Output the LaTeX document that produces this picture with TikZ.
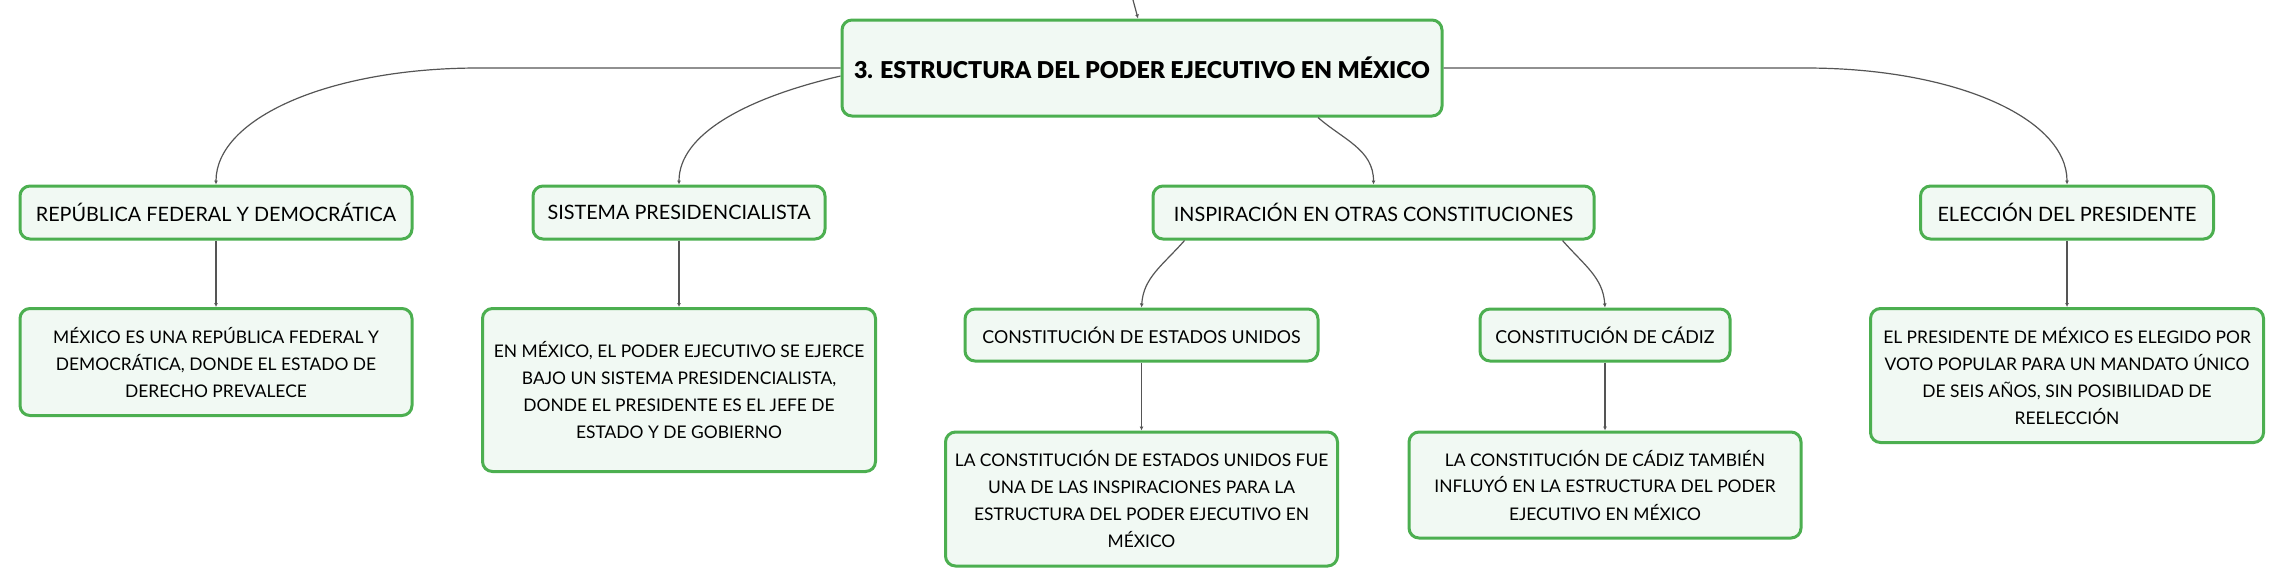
\documentclass[tikz,border=0pt]{standalone}
\usepackage{fontspec}
\setmainfont{Lato}[BoldFont={Lato Black}]
\usepackage{tikz}
\usetikzlibrary{arrows.meta}

\definecolor{boxgreen}{RGB}{76,175,80}
\definecolor{boxfill}{RGB}{241,249,243}
\definecolor{linkgray}{RGB}{85,85,85}

\begin{document}
\begin{tikzpicture}[x=0.5pt, y=-0.5pt,
    box/.style={draw=boxgreen, line width=1.5pt, fill=boxfill, rounded corners=5pt,
      align=center, inner sep=0pt, text=black},
    topic/.style={box, font=\fontsize{9.9}{13}\selectfont},
    subtopic/.style={box, font=\fontsize{8.9}{13}\selectfont},
    note/.style={box, font=\fontsize{8.7}{13.5}\selectfont},
    link/.style={draw=linkgray, line width=0.6pt, -{Latex[length=2pt,width=2pt]}}]
    \useasboundingbox (0,0) rectangle (2284,586);
    % main topic
    \node[box, font=\bfseries\fontsize{11.6}{13}\selectfont, minimum width=300pt, minimum height=48pt]
      (title) at (1142,68) {3. ESTRUCTURA DEL PODER EJECUTIVO EN MÉXICO};
    \coordinate (up) at (1133,0);
    % first level
    \node[topic, minimum width=196pt, minimum height=26.5pt] (rep) at (216,212.5) {REPÚBLICA FEDERAL Y DEMOCRÁTICA};
    \node[topic, minimum width=146pt, minimum height=26.5pt] (sis) at (679,212.5) {SISTEMA PRESIDENCIALISTA};
    \node[topic, minimum width=220.5pt, minimum height=26.5pt] (insp) at (1373.5,212.5) {INSPIRACIÓN EN OTRAS CONSTITUCIONES};
    \node[topic, minimum width=146.5pt, minimum height=26.5pt] (elec) at (2067,212.5) {ELECCIÓN DEL PRESIDENTE};
    % second level
    \node[note, minimum width=196pt, minimum height=53.5pt] (repd) at (216,362)
      {MÉXICO ES UNA REPÚBLICA FEDERAL Y\\DEMOCRÁTICA, DONDE EL ESTADO DE\\DERECHO PREVALECE};
    \node[note, minimum width=196.5pt, minimum height=81.5pt] (sisd) at (679,390)
      {EN MÉXICO, EL PODER EJECUTIVO SE EJERCE\\BAJO UN SISTEMA PRESIDENCIALISTA,\\DONDE EL PRESIDENTE ES EL JEFE DE\\ESTADO Y DE GOBIERNO};
    \node[subtopic, minimum width=176.5pt, minimum height=26pt] (usa) at (1141.5,335) {CONSTITUCIÓN DE ESTADOS UNIDOS};
    \node[subtopic, minimum width=125pt, minimum height=26pt] (cad) at (1605,335) {CONSTITUCIÓN DE CÁDIZ};
    \node[note, minimum width=196.5pt, minimum height=67pt] (elecd) at (2067,375.5)
      {EL PRESIDENTE DE MÉXICO ES ELEGIDO POR\\VOTO POPULAR PARA UN MANDATO ÚNICO\\DE SEIS AÑOS, SIN POSIBILIDAD DE\\REELECCIÓN};
    % third level
    \node[note, minimum width=196pt, minimum height=67pt] (usad) at (1141.5,499)
      {LA CONSTITUCIÓN DE ESTADOS UNIDOS FUE\\UNA DE LAS INSPIRACIONES PARA LA\\ESTRUCTURA DEL PODER EJECUTIVO EN\\MÉXICO};
    \node[note, minimum width=196pt, minimum height=53pt] (cadd) at (1605,485)
      {LA CONSTITUCIÓN DE CÁDIZ TAMBIÉN\\INFLUYÓ EN LA ESTRUCTURA DEL PODER\\EJECUTIVO EN MÉXICO};
    % connectors
    \draw[link] (up) -- ([xshift=-2pt]title.north);
    \draw[link] (title.west) -- ++(-362,0) .. controls +(-150,0) and +(0,-66) .. (rep.north);
    \draw[link] ([yshift=-4pt]title.west) .. controls +(-95,22) and +(0,-50) .. (sis.north);
    \draw[link] ([xshift=88pt]title.south) .. controls +(25,22) and +(0,-35) .. (insp.north);
    \draw[link] (title.east) -- ++(362,0) .. controls +(150,0) and +(0,-66) .. (elec.north);
    \draw[link] ([xshift=-94.5pt]insp.south) .. controls +(-22,25) and +(2,-30) .. (usa.north);
    \draw[link] ([xshift=94.5pt]insp.south) .. controls +(22,25) and +(-2,-30) .. (cad.north);
    \draw[link] (rep.south) -- (repd.north);
    \draw[link] (sis.south) -- (sisd.north);
    \draw[link] (usa.south) -- (usad.north);
    \draw[link] (cad.south) -- (cadd.north);
    \draw[link] (elec.south) -- (elecd.north);
\end{tikzpicture}
\end{document}
